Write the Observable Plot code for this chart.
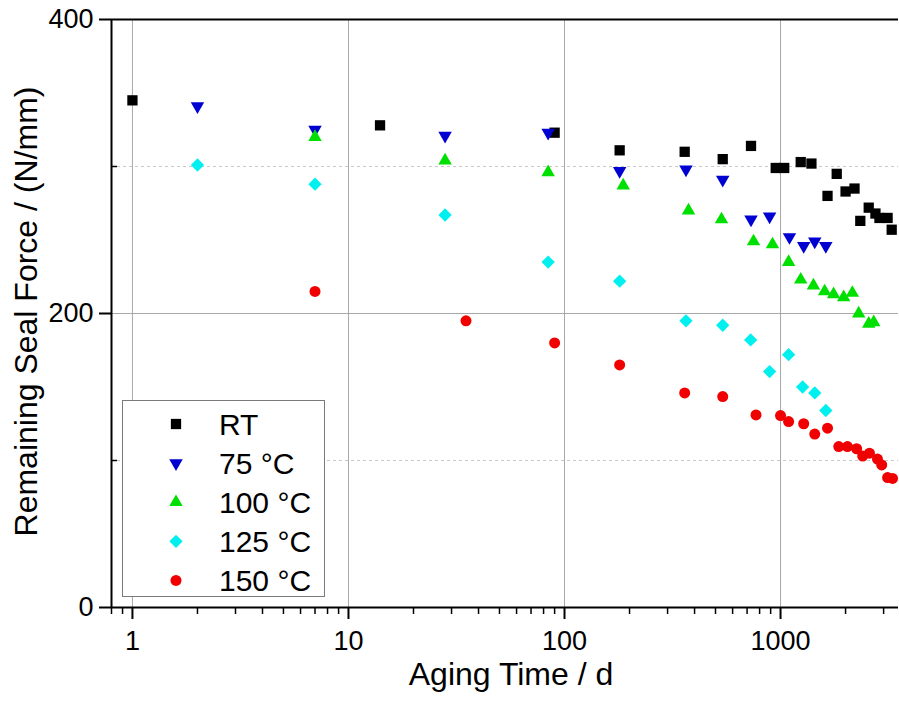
<!DOCTYPE html>
<html><head><meta charset="utf-8">
<script src="https://cdn.jsdelivr.net/npm/d3@7"></script>
<script src="https://cdn.jsdelivr.net/npm/@observablehq/plot@0.6"></script>
<style>
body{margin:0;background:#fff;}
#wrap{position:relative;width:899px;height:704px;font-family:"Liberation Sans",Arial,sans-serif;}
#legend{position:absolute;left:122px;top:400px;width:201px;height:195px;border:1px solid #7a7a7a;background:#fff;}
</style></head><body><div id="wrap"><div id="legend"></div></div>
<script>
// ---- data ----
const seriesNames = ["RT", "75 °C", "100 °C", "125 °C", "150 °C"];
const seriesColors = ["#000000", "#0000d0", "#00e000", "#00f0f0", "#f00000"];
const seriesSymbols = ["square", "triangle", "triangle", "diamond2", "circle"];
const seriesRotate = [0, 180, 0, 0, 0];
const seriesR = [5.8, 5, 5, 6, 5.5];

const daysRT = [1, 14, 90, 180, 360, 540, 730, 950, 1040, 1240, 1390, 1820, 1650, 2000, 2200, 2560, 2340, 2750, 2870, 3130, 3270];
const forceRT = [345, 328, 323, 311, 310, 305, 314, 299, 299, 303, 302, 295, 280, 283, 285, 272, 263, 268, 265, 265, 257];

const days75 = [2, 7, 28, 84, 180, 365, 540, 730, 890, 1100, 1280, 1440, 1620];
const force75 = [341, 325, 321, 323, 297, 298, 291, 264, 266, 252, 246, 249, 246];

const days100 = [7, 28, 84, 187, 375, 533, 750, 918, 1090, 1240, 1420, 1600, 1760, 1960, 2150, 2300, 2560, 2700];
const force100 = [320, 304, 296, 287, 270, 264, 249, 247, 235, 223, 219, 215, 213, 211, 214, 200, 193, 194];

const days125 = [2, 7, 28, 84, 180, 365, 540, 727, 890, 1090, 1265, 1440, 1620];
const force125 = [301, 288, 267, 235, 222, 195, 192, 182, 160.5, 172, 150, 146, 134];

const days150 = [7, 35, 90, 180, 360, 540, 770, 1000, 1090, 1280, 1440, 1650, 1860, 2040, 2250, 2400, 2580, 2810, 2940, 3130, 3300];
const force150 = [215, 195, 180, 165, 146, 143.5, 131, 130.6, 126.5, 125, 118, 122, 109.5, 109.5, 108, 103, 105, 101, 97, 88.4, 87.8];

const xMajor = [1, 10, 100, 1000];
const xMinor = [0.8, 0.9, 2, 3, 4, 5, 6, 7, 8, 9, 20, 30, 40, 50, 60, 70, 80, 90, 200, 300, 400, 500, 600, 700, 800, 900, 2000, 3000];
const yMajor = [0, 200, 400];
const yMinor = [100, 300];
const xDomain = [0.8, 3516];
const yDomain = [0, 400];
const xTitle = "Aging Time / d";
const yTitle = "Remaining Seal Force / (N/mm)";

// ---- build ----
const allDays = [daysRT, days75, days100, days125, days150];
const allForce = [forceRT, force75, force100, force125, force150];
const rows = [];
seriesNames.forEach((name, k) => allDays[k].forEach((d, i) => rows.push({series: name, days: d, force: allForce[k][i]})));

const font = "'Liberation Sans', Arial, sans-serif";
const dotMarks = seriesNames.map((name, k) =>
  Plot.dot(rows.filter(r => r.series === name), {
    x: "days", y: "force", symbol: seriesSymbols[k], fill: seriesColors[k],
    r: seriesR[k], rotate: seriesRotate[k]
  })
);

const chart = Plot.plot({
  width: 899, height: 704,
  marginLeft: 111, marginRight: 1, marginTop: 19, marginBottom: 97,
  style: {fontFamily: font, background: "#fff", color: "#000"},
  x: {type: "log", domain: xDomain, axis: null},
  y: {domain: yDomain, axis: null},
  marks: [
    Plot.ruleY(yMinor, {stroke: "#c8c8c8", strokeDasharray: "3,3"}),
    Plot.ruleY([200], {stroke: "#a8a8a8"}),
    Plot.ruleX(xMajor, {stroke: "#a8a8a8"}),
    ...dotMarks,
    Plot.ruleX([xDomain[0]], {stroke: "#000", strokeWidth: 2}),
    Plot.ruleY([yDomain[0]], {stroke: "#000", strokeWidth: 2}),
    Plot.ruleY([yDomain[1]], {stroke: "#000", strokeWidth: 2}),
    Plot.axisX({ticks: xMajor, tickSize: 12, strokeWidth: 2, fontSize: 27, tickPadding: 11, tickFormat: d => String(d), label: null}),
    Plot.axisX({ticks: xMinor, tickSize: 7, strokeWidth: 1.5, tickFormat: () => "", label: null}),
    Plot.axisY({ticks: yMajor, tickSize: 12, strokeWidth: 2, fontSize: 27, tickPadding: 6, tickFormat: d => String(d), label: null}),
    Plot.axisY({ticks: yMinor, tickSize: -6, strokeWidth: 1.5, tickFormat: () => "", label: null}),
    Plot.text([xTitle], {frameAnchor: "bottom", dx: 6, dy: 77, fontSize: 32, text: d => d}),
    Plot.text([yTitle], {frameAnchor: "left", textAnchor: "middle", dx: -85, dy: -2, rotate: -90, fontSize: 32, text: d => d})
  ]
});
document.getElementById("wrap").prepend(chart);

// ---- legend ----
const lg = d3.select("#legend").append("svg").attr("width", 201).attr("height", 195)
  .style("display", "block").style("overflow", "visible");
const symMap = {square: d3.symbolSquare, triangle: d3.symbolTriangle, diamond2: d3.symbolDiamond2, circle: d3.symbolCircle};
seriesNames.forEach((name, k) => {
  const cy = 23 + 39.1 * k;
  lg.append("path")
    .attr("d", d3.symbol(symMap[seriesSymbols[k]], Math.PI * seriesR[k] * seriesR[k])())
    .attr("transform", `translate(53,${cy}) rotate(${seriesRotate[k]})`)
    .attr("fill", seriesColors[k]);
  lg.append("text").attr("x", 96).attr("y", 34 + 39.1 * k)
    .attr("font-family", font).attr("font-size", 30).attr("fill", "#000").text(name);
});
</script></body></html>
